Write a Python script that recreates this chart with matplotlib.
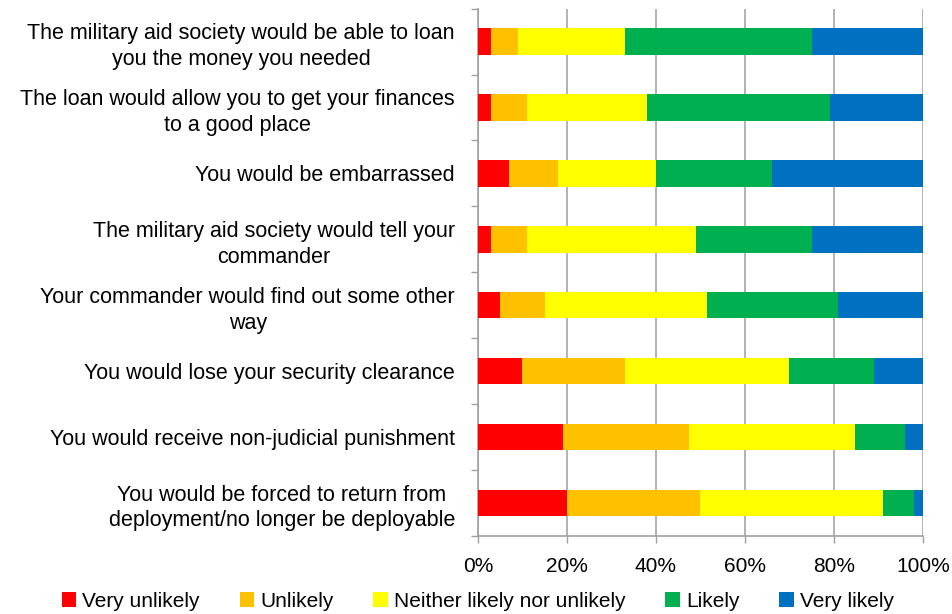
import numpy as np
import matplotlib.pyplot as plt
from matplotlib.ticker import FixedLocator, PercentFormatter

plt.rcParams['font.family'] = ['Liberation Sans', 'DejaVu Sans']

questions = [
    "The military aid society would be able to loan\nyou the money you needed",
    "The loan would allow you to get your finances\nto a good place",
    "You would be embarrassed",
    "The military aid society would tell your\ncommander",
    "Your commander would find out some other\nway",
    "You would lose your security clearance",
    "You would receive non-judicial punishment",
    "You would be forced to return from\ndeployment/no longer be deployable",
]
responses = ["Very unlikely", "Unlikely", "Neither likely nor unlikely", "Likely", "Very likely"]
colors = ["#ff0000", "#ffc000", "#ffff00", "#00b050", "#0070c0"]

very_unlikely = [3, 3, 7, 3, 5, 10, 19.2, 20]
unlikely = [6, 8, 11, 8, 10, 23, 28.2, 30]
neither = [24, 27, 22, 38, 36.5, 37, 37.4, 41]
likely = [42, 41, 26, 26, 29.5, 19, 11.2, 7]
very_likely = [25, 21, 34, 25, 19, 11, 4, 2]

series = [very_unlikely, unlikely, neither, likely, very_likely]

fig = plt.figure(figsize=(9.52, 6.14), dpi=100)
ax = fig.add_axes([0.502, 0.127, 0.4675, 0.859])

y = np.arange(len(questions))
left = np.zeros(len(questions))
for name, vals, c in zip(responses, series, colors):
    vals = np.array(vals, dtype=float)
    ax.barh(y, vals, left=left, height=0.4, color=c, label=name, zorder=3)
    left += vals

ax.set_xlim(0, 100)
ax.set_ylim(len(questions) - 0.5, -0.5)
ax.set_xticks(np.arange(0, 101, 20))
ax.xaxis.set_major_formatter(PercentFormatter(decimals=0))
ax.set_yticks(y)
ax.set_yticklabels(questions, multialignment='center', fontsize=15.5, linespacing=1.3)
ax.yaxis.set_minor_locator(FixedLocator(np.arange(-0.5, len(questions), 1)))
ax.tick_params(axis='y', which='major', length=0, pad=16.5)
ax.tick_params(axis='y', which='minor', length=5, color='#a0a0a0', width=1)
ax.tick_params(axis='x', length=5, color='#a0a0a0', width=1, labelsize=15, pad=10)

ax.grid(axis='x', color='#a6a6a6', linewidth=1.2, zorder=0)
for s in ['top', 'right']:
    ax.spines[s].set_visible(False)
for s in ['left', 'bottom']:
    ax.spines[s].set_color('#a0a0a0')
    ax.spines[s].set_linewidth(1.2)

fig.legend(loc='lower center', bbox_to_anchor=(0.502, -0.025), ncol=5, frameon=False,
           fontsize=15, handlelength=0.7, handleheight=0.7, handletextpad=0.3,
           columnspacing=1.9)

fig.savefig("out.png", dpi=100)
